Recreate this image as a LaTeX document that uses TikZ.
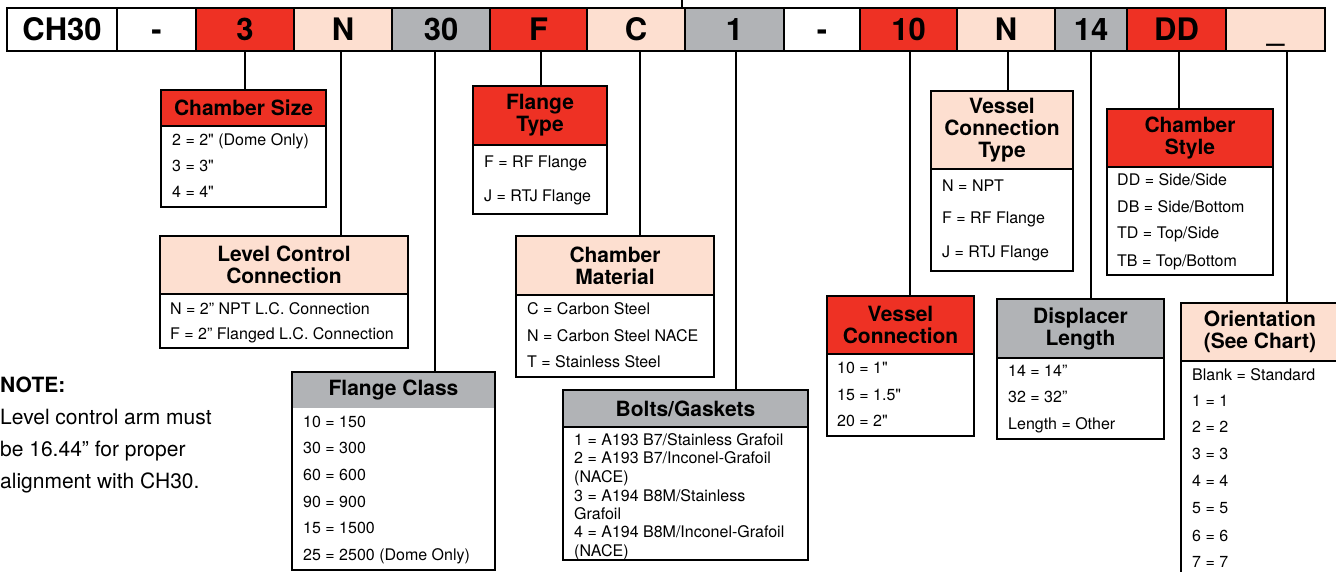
\documentclass[tikz,border=0pt]{standalone}
\usepackage{fontspec}
\setmainfont{TeX Gyre Heros}[Ligatures=TeXOff]
\definecolor{cred}{RGB}{238,49,36}
\definecolor{cpeach}{RGB}{253,223,208}
\definecolor{cgray}{RGB}{177,179,182}
\newcommand\fsbar{\fontsize{31}{31}\selectfont\bfseries}
\newcommand\fshdr{\fontsize{21}{22}\selectfont\bfseries}
\newcommand\fsrow{\fontsize{16}{18}\selectfont}
\newcommand\fsnote{\fontsize{21}{24}\selectfont}
\newcommand\kbox[9]{%
  \node[hdr, fill=#7, minimum width={(#3)-(#2)}, minimum height={(#5)-(#4)}] (#1) at (#2,#4) {#8};
  \node[bod, minimum width={(#3)-(#2)}, minimum height={(#6)-(#5)}] (#1b) at (#2,#5) {};
  \draw[frame] (#1.north west) rectangle (#1b.south east);
  \draw[frame, draw=#9] (#1.south west) -- (#1.south east);
}
\begin{document}
\begin{tikzpicture}[x=1pt, y=-1pt,
  cell/.style={draw=black, line width=2pt, inner sep=0pt, outer sep=0pt, minimum height=43pt, anchor=north west, font=\fsbar, text height=22pt, text depth=0pt},
  hdr/.style={inner sep=0pt, outer sep=0pt, anchor=north west, font=\fshdr, align=center},
  bod/.style={inner sep=0pt, outer sep=0pt, anchor=north west, fill=white},
  row/.style={anchor=west, inner sep=0pt, font=\fsrow, text height=11pt, text depth=3pt},
  note/.style={anchor=base west, inner sep=0pt, font=\fsnote},
  frame/.style={line width=2.5pt},
  conn/.style={line width=2pt}]
\useasboundingbox (0,0) rectangle (1336,571);
\clip (0,0) rectangle (1336,571);

% code bar
\node[cell, fill=white,  minimum width=110pt] (b1)  at (7,8)    {CH30};
\node[cell, fill=white,  minimum width=79pt]  (b2)  at (117,8)  {-};
\node[cell, fill=cred,   minimum width=98pt]  (b3)  at (196,8)  {3};
\node[cell, fill=cpeach, minimum width=98pt]  (b4)  at (294,8)  {N};
\node[cell, fill=cgray,  minimum width=98pt]  (b5)  at (392,8)  {30};
\node[cell, fill=cred,   minimum width=97pt]  (b6)  at (490,8)  {F};
\node[cell, fill=cpeach, minimum width=98pt]  (b7)  at (587,8)  {C};
\node[cell, fill=cgray,  minimum width=99pt]  (b8)  at (685,8)  {1};
\node[cell, fill=white,  minimum width=76pt]  (b9)  at (784,8)  {-};
\node[cell, fill=cred,   minimum width=97pt]  (b10) at (860,8)  {10};
\node[cell, fill=cpeach, minimum width=98pt]  (b11) at (957,8)  {N};
\node[cell, fill=cgray,  minimum width=72pt]  (b12) at (1055,8) {14};
\node[cell, fill=cred,   minimum width=99pt]  (b13) at (1127,8) {DD};
\node[cell, fill=cpeach, minimum width=99pt]  (b14) at (1226,8) {\_};
\draw[frame] (b1.north west) rectangle (b14.south east);

\coordinate (topend) at (682,0);
\draw[conn] (topend) -- (topend |- b7.north);

% boxes
\kbox{cs}{161}{326}{90}{126}{207}{cred}{Chamber Size}{black}
\kbox{lc}{160}{408}{236}{294}{348}{cpeach}{Level Control\\Connection}{black}
\kbox{ft}{473}{607}{86}{145}{214}{cred}{Flange\\Type}{black}
\kbox{cm}{516}{714}{236}{295}{377}{cpeach}{Chamber\\Material}{black}
\kbox{fc}{292}{495}{372}{408}{570}{cgray}{Flange Class}{none}
\kbox{bg}{563}{808}{390}{427}{560}{cgray}{Bolts/Gaskets}{black}
\kbox{vt}{931}{1073}{91}{169}{271}{cpeach}{Vessel\\Connection\\Type}{black}
\kbox{st}{1107}{1273}{109}{167}{275}{cred}{Chamber\\Style}{black}
\kbox{vc}{827}{974}{296}{354}{436}{cred}{Vessel\\Connection}{black}
\kbox{dl}{997}{1164}{299}{358}{439}{cgray}{Displacer\\Length}{black}
\kbox{ori}{1181}{1339}{303}{361}{600}{cpeach}{Orientation\\(See Chart)}{black}

% connectors
\draw[conn] (b3.south) -- (b3.south |- cs.north);
\draw[conn] ([xshift=-2pt]b4.south) -- ([xshift=-2pt]b4.south |- lc.north);
\draw[conn] ([xshift=-6pt]b5.south) -- ([xshift=-6pt]b5.south |- fc.north);
\draw[conn] ([xshift=2.5pt]b6.south) -- ([xshift=2.5pt]b6.south |- ft.north);
\draw[conn] ([xshift=4pt]b7.south) -- ([xshift=4pt]b7.south |- cm.north);
\draw[conn] ([xshift=1.5pt]b8.south) -- ([xshift=1.5pt]b8.south |- bg.north);
\draw[conn] ([xshift=1.5pt]b10.south) -- ([xshift=1.5pt]b10.south |- vc.north);
\draw[conn] ([xshift=2pt]b11.south) -- ([xshift=2pt]b11.south |- vt.north);
\draw[conn] (b12.south) -- (b12.south |- dl.north);
\draw[conn] ([xshift=2.5pt]b13.south) -- ([xshift=2.5pt]b13.south |- st.north);
\draw[conn] ([xshift=11.5pt]b14.south) -- ([xshift=11.5pt]b14.south |- ori.north);

% rows
\node[row] (cs1) at (172,141) {2 = 2" (Dome Only)};
\node[row] (cs2) at (172,167) {3 = 3"};
\node[row] (cs3) at (172,193) {4 = 4"};

\node[row] (lc1) at (170,310) {N = 2” NPT L.C. Connection};
\node[row] (lc2) at (170,335) {F = 2” Flanged L.C. Connection};

\node[row] (ft1) at (484,163) {F = RF Flange};
\node[row] (ft2) at (484,197) {J = RTJ Flange};

\node[row] (cm1) at (527,310) {C = Carbon Steel};
\node[row] (cm2) at (527,337) {N = Carbon Steel NACE};
\node[row] (cm3) at (527,363) {T = Stainless Steel};

\node[row] (fc1) at (303,423) {10 = 150};
\node[row] (fc2) at (303,449) {30 = 300};
\node[row] (fc3) at (303,476) {60 = 600};
\node[row] (fc4) at (303,503) {90 = 900};
\node[row] (fc5) at (303,529) {15 = 1500};
\node[row] (fc6) at (303,556) {25 = 2500 (Dome Only)};

\node[row] (bg1) at (574,441) {1 = A193 B7/Stainless Grafoil};
\node[row] (bg2) at (574,459) {2 = A193 B7/Inconel-Grafoil};
\node[row] (bg3) at (574,478) {(NACE)};
\node[row] (bg4) at (574,497) {3 = A194 B8M/Stainless};
\node[row] (bg5) at (574,515) {Grafoil};
\node[row] (bg6) at (574,533) {4 = A194 B8M/Inconel-Grafoil};
\node[row] (bg7) at (574,552) {(NACE)};
\draw[frame] (bg.north west) rectangle (bgb.south east);

\node[row] (vt1) at (942,187) {N = NPT};
\node[row] (vt2) at (942,219) {F = RF Flange};
\node[row] (vt3) at (942,253) {J = RTJ Flange};

\node[row] (st1) at (1117,181) {DD = Side/Side};
\node[row] (st2) at (1117,208) {DB = Side/Bottom};
\node[row] (st3) at (1117,234) {TD = Top/Side};
\node[row] (st4) at (1117,262) {TB = Top/Bottom};

\node[row] (vc1) at (837,369) {10 = 1"};
\node[row] (vc2) at (837,396) {15 = 1.5"};
\node[row] (vc3) at (837,422) {20 = 2"};

\node[row] (dl1) at (1008,372) {14 = 14”};
\node[row] (dl2) at (1008,398) {32 = 32”};
\node[row] (dl3) at (1008,425) {Length = Other};

\node[row] (or1) at (1192,376) {Blank = Standard};
\node[row] (or2) at (1192,402) {1 = 1};
\node[row] (or3) at (1192,428) {2 = 2};
\node[row] (or4) at (1192,455) {3 = 3};
\node[row] (or5) at (1192,482) {4 = 4};
\node[row] (or6) at (1192,509) {5 = 5};
\node[row] (or7) at (1192,537) {6 = 6};
\node[row] (or8) at (1192,563) {7 = 7};

% note
\node[note, font=\fsnote\bfseries] (n1) at (0,392) {NOTE:};
\node[note] (n2) at (0,424) {Level control arm must};
\node[note] (n3) at (0,456) {be 16.44” for proper};
\node[note] (n4) at (0,488) {alignment with CH30.};
\end{tikzpicture}
\end{document}
